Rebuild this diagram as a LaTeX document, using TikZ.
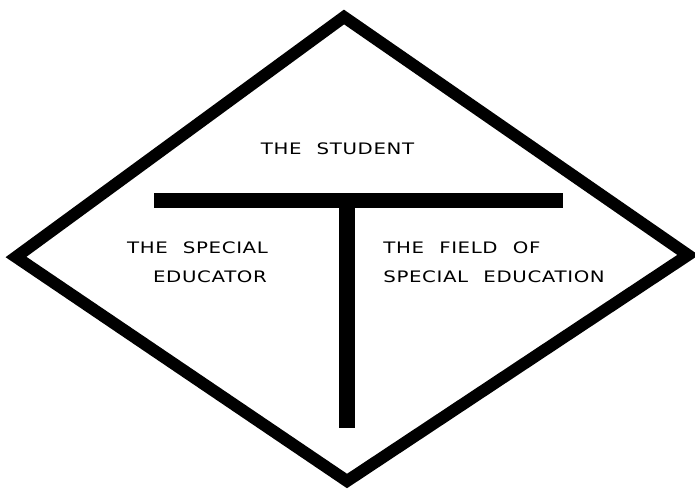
\documentclass[tikz,border=0pt]{standalone}
\usepackage{fontspec}
\newfontfamily\plotfont[FakeStretch=1.25,LetterSpace=4,WordSpace=2.2]{DejaVu Sans}
\usetikzlibrary{positioning}

\begin{document}
\begin{tikzpicture}[
    x=0.02cm, y=-0.02cm,
    every node/.style={inner sep=0pt, font=\plotfont\fontsize{9}{11}\selectfont},
    frame/.style={draw, line width=0.24cm, line join=miter},
    tbar/.style={fill=black}
]
\useasboundingbox (0,0) rectangle (695,493);
% diamond corners
\coordinate (top) at (344,17);
\coordinate (right) at (688,255);
\coordinate (bottom) at (347,481);
\coordinate (left) at (16,257);
\draw[frame] (top) -- (right) -- (bottom) -- (left) -- cycle;
% the T
\fill[tbar] (154,193) rectangle (563,208);
\fill[tbar] (339,200) rectangle (355,428);
% labels
\node (student) at (337.5,149) {THE STUDENT};
\node (educatorA) at (197.5,248) {THE SPECIAL};
\node (educatorB) at (210,277) {EDUCATOR};
\node[anchor=west] (fieldA) at (383,248) {THE FIELD OF};
\node[anchor=west] (fieldB) at (383,277) {SPECIAL EDUCATION};
\end{tikzpicture}
\end{document}
